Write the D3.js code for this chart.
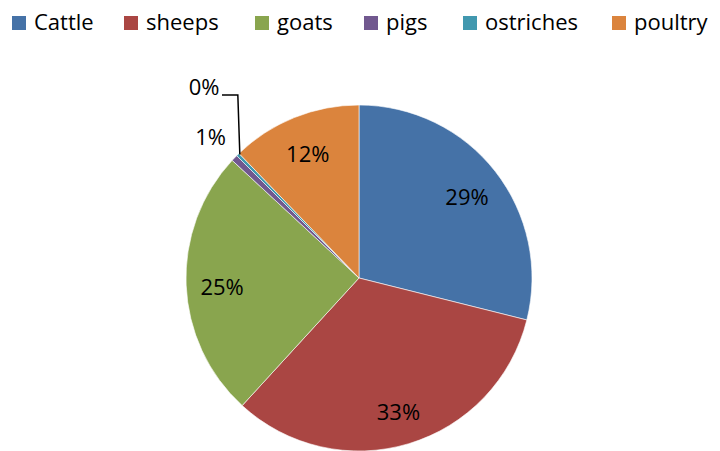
<!DOCTYPE html>
<html>
<head>
<meta charset="utf-8">
<script src="https://cdn.jsdelivr.net/npm/d3@7"></script>
<style>
  html, body { margin: 0; padding: 0; background: #fff; }
  svg { display: block; font-family: "Open Sans", Lato, sans-serif; }
</style>
</head>
<body>
<svg id="chart" width="720" height="451"></svg>
<script>
// Livestock shares (percent)
const categories = ["Cattle", "sheeps", "goats", "pigs", "ostriches", "poultry"];
const shares = [28.9, 32.9, 25.1, 0.6, 0.3, 12.2];
const colors = ["#4572A7", "#AA4643", "#89A54E", "#71588F", "#4198AF", "#DB843D"];

const svg = d3.select("#chart");
const cx = 359, cy = 278, R = 173;
const fontSize = 22;

const data = categories.map((c, i) => ({ name: c, value: shares[i], color: colors[i] }));

const pie = d3.pie().value(d => d.value).sort(null);
const arcs = pie(data);
const arc = d3.arc().innerRadius(0).outerRadius(R);
const labelArc = d3.arc().innerRadius(137).outerRadius(137);
const outerLabelArc = d3.arc().innerRadius(206).outerRadius(206);

const g = svg.append("g").attr("transform", `translate(${cx},${cy})`);

g.selectAll("path.slice")
  .data(arcs)
  .enter().append("path")
  .attr("class", "slice")
  .attr("d", arc)
  .attr("fill", d => d.data.color)
  .attr("stroke", "#fff")
  .attr("stroke-width", 0.6);

const pct = d => Math.round(d.data.value) + "%";

function label(x, y, txt) {
  g.append("text")
    .attr("x", x).attr("y", y)
    .attr("text-anchor", "middle")
    .attr("dominant-baseline", "central")
    .attr("font-size", fontSize)
    .attr("fill", "#000")
    .text(txt);
}

// Labels inside the large slices
arcs.forEach(d => {
  if (d.data.value >= 2) {
    const [x, y] = labelArc.centroid(d);
    label(x, y + 2, pct(d));
  }
});

// pigs: label just outside the pie
{
  const d = arcs[3];
  const [x, y] = outerLabelArc.centroid(d);
  label(x, y + 1, pct(d));
}

// ostriches: label with leader line
{
  const d = arcs[4];
  const mid = (d.startAngle + d.endAngle) / 2;
  const ex = R * Math.sin(mid), ey = -R * Math.cos(mid);
  const lx = 204 - cx, ly = 86 - cy;
  const elbowY = 95 - cy;
  g.append("path")
    .attr("d", `M${lx + 18},${elbowY} L${ex},${elbowY} L${ex + 2},${ey}`)
    .attr("fill", "none")
    .attr("stroke", "#000")
    .attr("stroke-width", 1.5);
  label(lx, ly, pct(d));
}

// Legend across the top
const legendX = [12, 124, 255, 364, 463, 612];
const legend = svg.append("g");
data.forEach((d, i) => {
  const lg = legend.append("g").attr("transform", `translate(${legendX[i]},0)`);
  lg.append("rect")
    .attr("x", 0).attr("y", 16)
    .attr("width", 14).attr("height", 14)
    .attr("fill", d.color);
  lg.append("text")
    .attr("x", 22).attr("y", 30)
    .attr("font-size", fontSize)
    .attr("fill", "#000")
    .text(d.name);
});
</script>
</body>
</html>
